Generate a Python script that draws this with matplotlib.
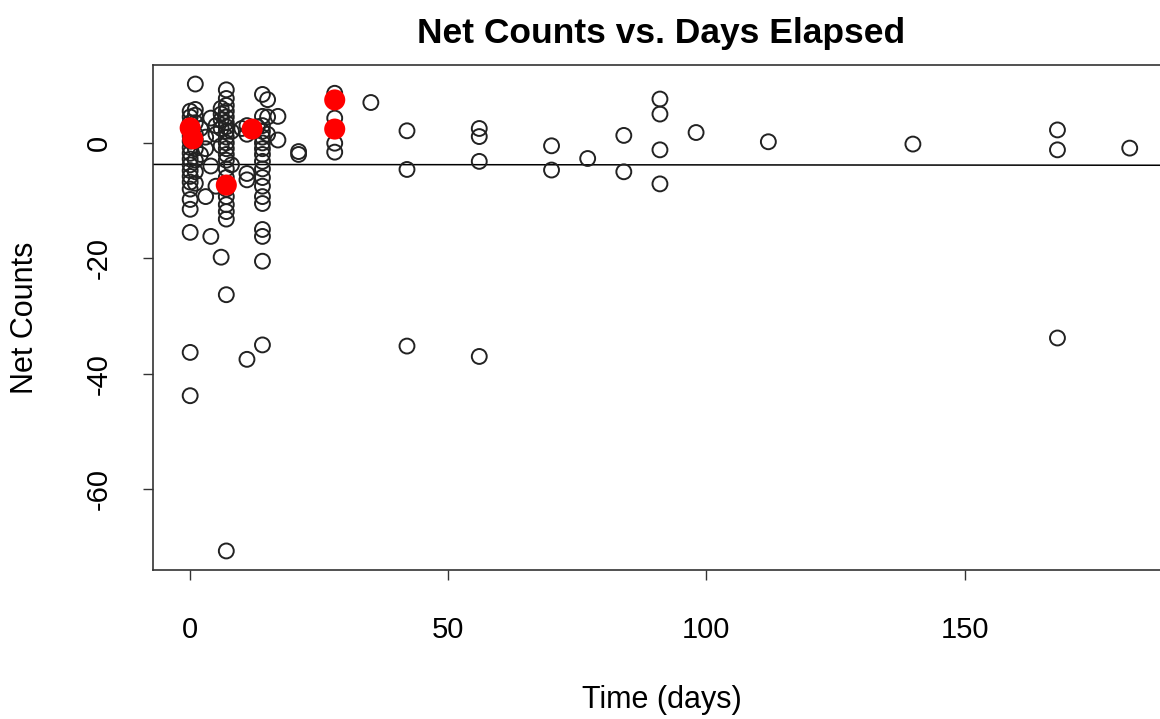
import numpy as np
import matplotlib
matplotlib.use('Agg')
import matplotlib.pyplot as plt

plt.rcParams['font.family'] = ['Liberation Sans', 'DejaVu Sans']
plt.rcParams['axes.unicode_minus'] = False

# ── Data ──
# each column: day -> list of net counts
day_cols = [0, 1, 2, 3, 4, 5, 6, 7, 8, 10, 11, 13, 14, 15, 17, 21,
            28, 35, 42, 56, 70, 77, 84, 91, 98, 112, 140, 168, 182]
count_cols = [
    [5.5, 4.5, 3.5, 2.8, 2.0, 1.2, 0.3, -0.8, -1.8, -2.8, -3.8, -4.8,
     -5.8, -6.8, -8.0, -9.8, -11.5, -15.5, -36.3, -43.8],          # 0
    [10.2, 5.8, 4.8, 3.5, 1.5, 0.5, -1.0, -3.0, -5.0, -7.0],       # 1
    [2.5, -2.0],                                                   # 2
    [1.0, -1.0, -9.3],                                             # 3
    [4.3, -4.0, -16.2],                                            # 4
    [3.0, 1.5, -7.5],                                              # 5
    [6.0, 5.0, 4.0, 2.5, -0.5, -19.8],                             # 6
    [9.2, 7.7, 6.5, 5.5, 4.5, 3.5, 2.8, 2.0, 1.0, 0.0, -1.0, -2.0,
     -3.0, -4.5, -6.0, -8.0, -9.3, -10.7, -11.9, -13.2, -26.3, -70.7],  # 7
    [2.0, -3.8],                                                   # 8
    [2.5],                                                         # 10
    [3.0, 1.5, -5.3, -6.4, -37.5],                                 # 11
    [2.8],                                                         # 13
    [8.4, 4.6, 3.0, 2.0, 1.0, 0.0, -1.0, -2.0, -3.2, -4.5, -6.0, -7.5,
     -9.3, -10.5, -15.0, -16.2, -20.5, -35.0],                     # 14
    [7.5, 4.5, 1.5],                                               # 15
    [4.6, 0.5],                                                    # 17
    [-1.5, -2.0],                                                  # 21
    [8.6, 7.4, 4.3, 2.4, -0.05, -1.6],                             # 28
    [7.0],                                                         # 35
    [2.1, -4.6, -35.2],                                            # 42
    [2.5, 1.1, -3.2, -37.0],                                       # 56
    [-0.5, -4.7],                                                  # 70
    [-2.7],                                                        # 77
    [1.3, -5.0],                                                   # 84
    [7.6, 5.0, -1.2, -7.1],                                        # 91
    [1.8],                                                         # 98
    [0.2],                                                         # 112
    [-0.2],                                                        # 140
    [2.25, -1.2, -33.8],                                           # 168
    [-0.9],                                                        # 182
]

days = np.concatenate([[d] * len(c) for d, c in zip(day_cols, count_cols)])
counts = np.concatenate(count_cols)

# highlighted points
red_days = [0, 0.5, 7, 12, 28, 28]
red_counts = [2.6, 0.7, -7.3, 2.4, 7.45, 2.4]

# ── Figure ──
fig = plt.figure(figsize=(11.6, 7.19), dpi=100)
ax = fig.add_axes([153 / 1160, 1 - 570 / 719, 1017 / 1160, 505 / 719])

ax.scatter(days, counts, s=115, facecolors='none', edgecolors='#222222',
           linewidths=1.4, zorder=3)
ax.scatter(red_days, red_counts, s=230, c='red', edgecolors='none', zorder=4)

# least squares line (like abline(lm(...)))
slope, intercept = np.polyfit(days, counts, 1)
ax.axline((0, intercept), slope=slope, color='black', linewidth=1.1, zorder=2)

# ── Axes ──
ax.set_xlim(-7.2, 189.8)
ax.set_ylim(-74.0, 13.5)
ax.set_xticks([0, 50, 100, 150])
ax.set_yticks([0, -20, -40, -60])
ax.tick_params(axis='both', length=7, width=1.0, labelsize=21, color='#333333')
ax.tick_params(axis='x', pad=26)
ax.tick_params(axis='y', pad=22)
for lab in ax.get_yticklabels():
    lab.set_rotation(90)
    lab.set_va('center')
for sp in ax.spines.values():
    sp.set_color('#333333')
    sp.set_linewidth(1.2)

ax.set_title('Net Counts vs. Days Elapsed', fontsize=25.5, fontweight='bold', pad=16)
ax.set_xlabel('Time (days)', fontsize=22)
ax.set_ylabel('Net Counts', fontsize=22)
ax.xaxis.set_label_coords(0.5, -130 / 505)
ax.xaxis.label.set_va('center')
ax.yaxis.set_label_coords(-128 / 1017, 0.5)
ax.yaxis.label.set_va('center')

fig.savefig('out.png', dpi=100, facecolor='white')
plt.close(fig)
